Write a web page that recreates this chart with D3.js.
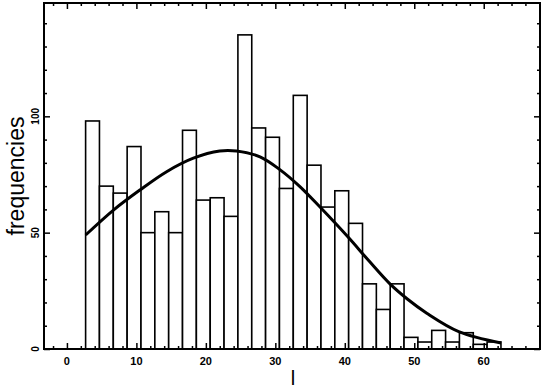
<!DOCTYPE html>
<html>
<head>
<meta charset="utf-8">
<script src="https://cdn.jsdelivr.net/npm/d3@7"></script>
<style>
  html, body { margin: 0; padding: 0; background: #fff; }
  svg { display: block; }
</style>
</head>
<body>
<svg id="chart" width="545" height="390"></svg>
<script>
// ---- data ----
const binStart = 2.69;
const binWidth = 1.993;
const counts = [98, 70, 67, 87, 50, 59, 50, 94, 64, 65, 57, 135, 95, 91, 69,
                109, 79, 61, 68, 54, 28, 17, 28, 5, 3, 8, 3, 7, 2, 3];
const curveX = [2.7, 6.7, 10.5, 14.35, 18.2, 22, 24.4, 27.8, 30.6, 33.5, 36.4,
                40.5, 43.5, 46.5, 49, 51.8, 56.4, 62.5];
const curveY = [49.0, 59.7, 68.3, 76.2, 82.0, 85.1, 85.1, 82.6, 77.2, 69.9, 61.1,
                48.0, 37.8, 28.0, 21.5, 15.4, 7.5, 2.6];
const xTicksMajor = [0, 10, 20, 30, 40, 50, 60];
const yTicksMajor = [0, 50, 100];
const xLabel = "l";
const yLabel = "frequencies";

// ---- layout ----
const svg = d3.select("#chart");
const L = 44, R = 540, T = 3, B = 349;
const x = d3.scaleLinear().domain([-3.3, 68.1]).range([L, R]);
const y = d3.scaleLinear().domain([0, 148.7]).range([B, T]);

const bins = counts.map((c, i) => ({ x0: binStart + i * binWidth, x1: binStart + (i + 1) * binWidth, c }));

// bars
svg.append("g").selectAll("rect").data(bins).join("rect")
  .attr("x", d => x(d.x0))
  .attr("y", d => y(d.c))
  .attr("width", d => x(d.x1) - x(d.x0))
  .attr("height", d => y(0) - y(d.c))
  .attr("fill", "#fff")
  .attr("stroke", "#000")
  .attr("stroke-width", 1.6);

// curve
const pts = curveX.map((v, i) => [v, curveY[i]]);
svg.append("path")
  .datum(pts)
  .attr("d", d3.line().x(d => x(d[0])).y(d => y(d[1])).curve(d3.curveCatmullRom.alpha(0.5)))
  .attr("fill", "none")
  .attr("stroke", "#000")
  .attr("stroke-width", 3);

// axes (ticks inward, on all four sides)
const xMinor = d3.range(-2, 68.1, 2);
const yMinor = d3.range(0, 148.7, 10);
const isMajX = v => Math.abs(v % 10) < 1e-6;
const isMajY = v => Math.abs(v % 50) < 1e-6;

const gBottom = svg.append("g").attr("transform", `translate(0,${B})`)
  .call(d3.axisBottom(x).tickValues(xMinor).tickSize(-3).tickFormat(""));
const gTop = svg.append("g").attr("transform", `translate(0,${T})`)
  .call(d3.axisTop(x).tickValues(xMinor).tickSize(-3).tickFormat(""));
const gLeft = svg.append("g").attr("transform", `translate(${L},0)`)
  .call(d3.axisLeft(y).tickValues(yMinor).tickSize(-3).tickFormat(""));
const gRight = svg.append("g").attr("transform", `translate(${R},0)`)
  .call(d3.axisRight(y).tickValues(yMinor).tickSize(-3).tickFormat(""));

gBottom.selectAll(".tick line").filter(d => isMajX(d)).attr("y2", -6);
gTop.selectAll(".tick line").filter(d => isMajX(d)).attr("y2", 6);
gLeft.selectAll(".tick line").filter(d => isMajY(d)).attr("x2", 6);
gRight.selectAll(".tick line").filter(d => isMajY(d)).attr("x2", -6);

[gBottom, gTop, gLeft, gRight].forEach(g => {
  g.select(".domain").remove();
  g.selectAll(".tick line").attr("stroke", "#000").attr("stroke-width", 1.5);
});

// frame
svg.append("rect")
  .attr("x", L).attr("y", T).attr("width", R - L).attr("height", B - T)
  .attr("fill", "none").attr("stroke", "#000").attr("stroke-width", 2);

// tick labels
svg.append("g").selectAll("text").data(xTicksMajor).join("text")
  .attr("x", d => x(d))
  .attr("y", 365)
  .attr("text-anchor", "middle")
  .attr("font-family", "Liberation Sans, Arial, sans-serif")
  .attr("font-weight", "bold")
  .attr("font-size", 11)
  .text(d => d);

svg.append("g").selectAll("text").data(yTicksMajor).join("text")
  .attr("transform", d => `translate(39,${y(d)}) rotate(-90)`)
  .attr("text-anchor", "middle")
  .attr("font-family", "Liberation Sans, Arial, sans-serif")
  .attr("font-weight", "bold")
  .attr("font-size", 10)
  .text(d => d);

// axis titles
svg.append("text")
  .attr("transform", `translate(24,176) rotate(-90)`)
  .attr("text-anchor", "middle")
  .attr("font-family", "Liberation Sans, Arial, sans-serif")
  .attr("font-size", 23)
  .text(yLabel);

svg.append("text")
  .attr("x", 293)
  .attr("y", 385)
  .attr("text-anchor", "middle")
  .attr("font-family", "Liberation Sans, Arial, sans-serif")
  .attr("font-size", 20)
  .text(xLabel);
</script>
</body>
</html>
